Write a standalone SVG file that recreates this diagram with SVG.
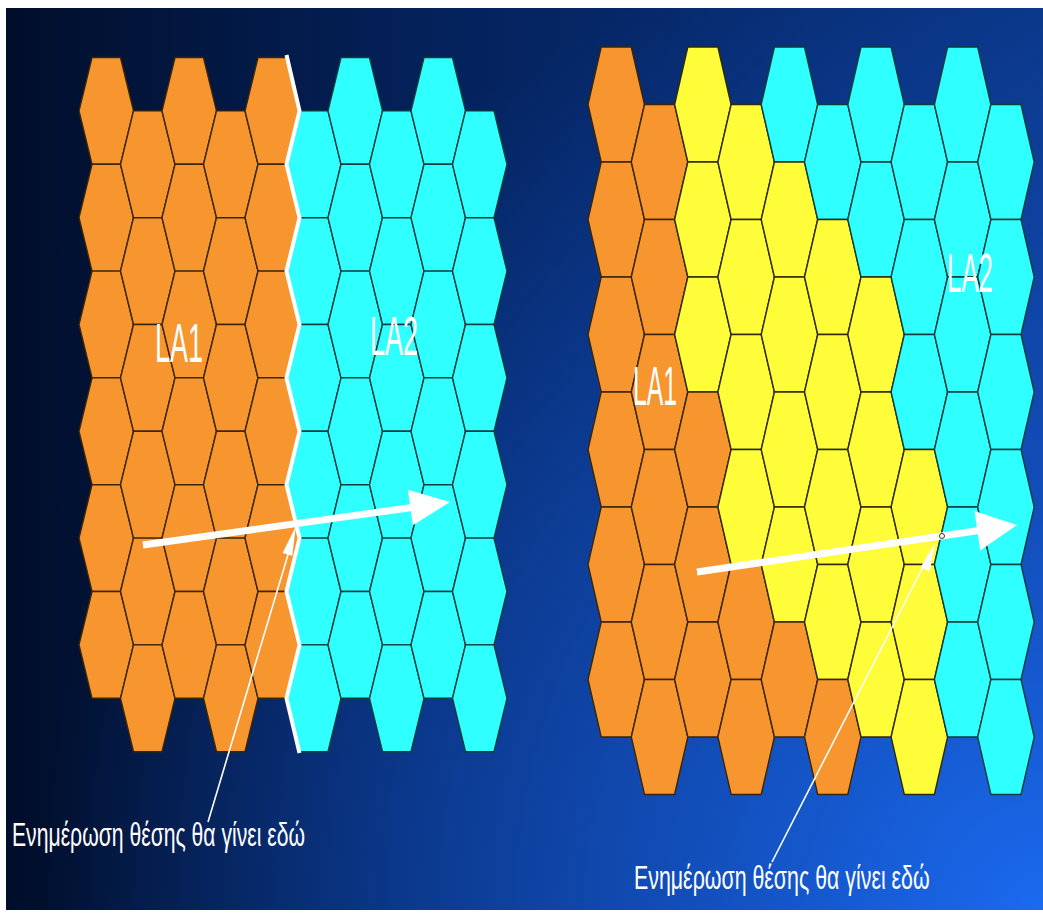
<svg xmlns="http://www.w3.org/2000/svg" xmlns:xlink="http://www.w3.org/1999/xlink" width="1043" height="917" viewBox="0 0 1043 917">
<style>
.o{fill:#f7952f;stroke:#3a2508;stroke-width:1.4}
.y{fill:#fffc3a;stroke:#2e2a06;stroke-width:1.4}
.c{fill:#30ffff;stroke:#0d3c3c;stroke-width:1.4}
.lbl{fill:#ffffff;font-family:"Liberation Sans",Arial,sans-serif;font-size:56px}
.note{fill:#ffffff;font-family:"Liberation Sans",Arial,sans-serif;font-size:33px}
.thin{stroke:#ffffff;stroke-width:1.6;fill:none}
.thick{stroke:#ffffff;stroke-width:7;fill:none}
.head{fill:#ffffff}
</style>
<defs>
<linearGradient id="bgH" x1="0" y1="0" x2="1" y2="0">
<stop offset="0" stop-color="#010e2a"/>
<stop offset="0.4" stop-color="#04215a"/>
<stop offset="1" stop-color="#0a3482"/>
</linearGradient>
<radialGradient id="bgR" gradientUnits="userSpaceOnUse" cx="1043" cy="917" r="1000">
<stop offset="0" stop-color="#1b6af0" stop-opacity="1"/>
<stop offset="0.5" stop-color="#1558d0" stop-opacity="0.6"/>
<stop offset="1" stop-color="#1558d0" stop-opacity="0"/>
</radialGradient>
<polygon id="hL" points="13,0 41.5,0 54.5,53.4 41.5,106.8 13,106.8 0,53.4"/>
<polygon id="hR" points="13.2,0 43.3,0 56.5,57.5 43.3,115 13.2,115 0,57.5"/>
</defs>
<rect x="0" y="0" width="1043" height="917" fill="#ffffff"/>
<rect x="6" y="8" width="1037" height="902" fill="url(#bgH)"/>
<rect x="6" y="8" width="1037" height="902" fill="url(#bgR)"/>

<g id="left-grid">
<g id="L-LA1">
<use xlink:href="#hL" class="o" x="79" y="57.5"/><use xlink:href="#hL" class="o" x="79" y="164.3"/><use xlink:href="#hL" class="o" x="79" y="271.1"/><use xlink:href="#hL" class="o" x="79" y="377.9"/><use xlink:href="#hL" class="o" x="79" y="484.7"/><use xlink:href="#hL" class="o" x="79" y="591.5"/>
<use xlink:href="#hL" class="o" x="120.5" y="110.9"/><use xlink:href="#hL" class="o" x="120.5" y="217.7"/><use xlink:href="#hL" class="o" x="120.5" y="324.5"/><use xlink:href="#hL" class="o" x="120.5" y="431.3"/><use xlink:href="#hL" class="o" x="120.5" y="538.1"/><use xlink:href="#hL" class="o" x="120.5" y="644.9"/>
<use xlink:href="#hL" class="o" x="162" y="57.5"/><use xlink:href="#hL" class="o" x="162" y="164.3"/><use xlink:href="#hL" class="o" x="162" y="271.1"/><use xlink:href="#hL" class="o" x="162" y="377.9"/><use xlink:href="#hL" class="o" x="162" y="484.7"/><use xlink:href="#hL" class="o" x="162" y="591.5"/>
<use xlink:href="#hL" class="o" x="203.5" y="110.9"/><use xlink:href="#hL" class="o" x="203.5" y="217.7"/><use xlink:href="#hL" class="o" x="203.5" y="324.5"/><use xlink:href="#hL" class="o" x="203.5" y="431.3"/><use xlink:href="#hL" class="o" x="203.5" y="538.1"/><use xlink:href="#hL" class="o" x="203.5" y="644.9"/>
<use xlink:href="#hL" class="o" x="245" y="57.5"/><use xlink:href="#hL" class="o" x="245" y="164.3"/><use xlink:href="#hL" class="o" x="245" y="271.1"/><use xlink:href="#hL" class="o" x="245" y="377.9"/><use xlink:href="#hL" class="o" x="245" y="484.7"/><use xlink:href="#hL" class="o" x="245" y="591.5"/>
</g>
<g id="L-LA2">
<use xlink:href="#hL" class="c" x="286.5" y="110.9"/><use xlink:href="#hL" class="c" x="286.5" y="217.7"/><use xlink:href="#hL" class="c" x="286.5" y="324.5"/><use xlink:href="#hL" class="c" x="286.5" y="431.3"/><use xlink:href="#hL" class="c" x="286.5" y="538.1"/><use xlink:href="#hL" class="c" x="286.5" y="644.9"/>
<use xlink:href="#hL" class="c" x="328" y="57.5"/><use xlink:href="#hL" class="c" x="328" y="164.3"/><use xlink:href="#hL" class="c" x="328" y="271.1"/><use xlink:href="#hL" class="c" x="328" y="377.9"/><use xlink:href="#hL" class="c" x="328" y="484.7"/><use xlink:href="#hL" class="c" x="328" y="591.5"/>
<use xlink:href="#hL" class="c" x="369.5" y="110.9"/><use xlink:href="#hL" class="c" x="369.5" y="217.7"/><use xlink:href="#hL" class="c" x="369.5" y="324.5"/><use xlink:href="#hL" class="c" x="369.5" y="431.3"/><use xlink:href="#hL" class="c" x="369.5" y="538.1"/><use xlink:href="#hL" class="c" x="369.5" y="644.9"/>
<use xlink:href="#hL" class="c" x="411" y="57.5"/><use xlink:href="#hL" class="c" x="411" y="164.3"/><use xlink:href="#hL" class="c" x="411" y="271.1"/><use xlink:href="#hL" class="c" x="411" y="377.9"/><use xlink:href="#hL" class="c" x="411" y="484.7"/><use xlink:href="#hL" class="c" x="411" y="591.5"/>
<use xlink:href="#hL" class="c" x="452.5" y="110.9"/><use xlink:href="#hL" class="c" x="452.5" y="217.7"/><use xlink:href="#hL" class="c" x="452.5" y="324.5"/><use xlink:href="#hL" class="c" x="452.5" y="431.3"/><use xlink:href="#hL" class="c" x="452.5" y="538.1"/><use xlink:href="#hL" class="c" x="452.5" y="644.9"/>
</g>
<polyline id="L-border" fill="none" stroke="#ffffff" stroke-width="4" stroke-linejoin="miter" points="286.5,55 299.5,110.9 286.5,164.3 299.5,217.7 286.5,271.1 299.5,324.5 286.5,377.9 299.5,431.3 286.5,484.7 299.5,538.1 286.5,591.5 299.5,644.9 286.5,698.3 299.5,753"/>
</g>

<g id="right-grid">
<g id="R-col0">
<use xlink:href="#hR" class="o" x="588" y="47"/><use xlink:href="#hR" class="o" x="588" y="162"/><use xlink:href="#hR" class="o" x="588" y="277"/><use xlink:href="#hR" class="o" x="588" y="392"/><use xlink:href="#hR" class="o" x="588" y="507"/><use xlink:href="#hR" class="o" x="588" y="622"/>
</g>
<g id="R-col1">
<use xlink:href="#hR" class="o" x="631.3" y="104.5"/><use xlink:href="#hR" class="o" x="631.3" y="219.5"/><use xlink:href="#hR" class="o" x="631.3" y="334.5"/><use xlink:href="#hR" class="o" x="631.3" y="449.5"/><use xlink:href="#hR" class="o" x="631.3" y="564.5"/><use xlink:href="#hR" class="o" x="631.3" y="679.5"/>
</g>
<g id="R-col2">
<use xlink:href="#hR" class="y" x="674.6" y="47"/><use xlink:href="#hR" class="y" x="674.6" y="162"/><use xlink:href="#hR" class="y" x="674.6" y="277"/><use xlink:href="#hR" class="o" x="674.6" y="392"/><use xlink:href="#hR" class="o" x="674.6" y="507"/><use xlink:href="#hR" class="o" x="674.6" y="622"/>
</g>
<g id="R-col3">
<use xlink:href="#hR" class="y" x="717.9" y="104.5"/><use xlink:href="#hR" class="y" x="717.9" y="219.5"/><use xlink:href="#hR" class="y" x="717.9" y="334.5"/><use xlink:href="#hR" class="y" x="717.9" y="449.5"/><use xlink:href="#hR" class="o" x="717.9" y="564.5"/><use xlink:href="#hR" class="o" x="717.9" y="679.5"/>
</g>
<g id="R-col4">
<use xlink:href="#hR" class="c" x="761.2" y="47"/><use xlink:href="#hR" class="y" x="761.2" y="162"/><use xlink:href="#hR" class="y" x="761.2" y="277"/><use xlink:href="#hR" class="y" x="761.2" y="392"/><use xlink:href="#hR" class="y" x="761.2" y="507"/><use xlink:href="#hR" class="o" x="761.2" y="622"/>
</g>
<g id="R-col5">
<use xlink:href="#hR" class="c" x="804.5" y="104.5"/><use xlink:href="#hR" class="y" x="804.5" y="219.5"/><use xlink:href="#hR" class="y" x="804.5" y="334.5"/><use xlink:href="#hR" class="y" x="804.5" y="449.5"/><use xlink:href="#hR" class="y" x="804.5" y="564.5"/><use xlink:href="#hR" class="o" x="804.5" y="679.5"/>
</g>
<g id="R-col6">
<use xlink:href="#hR" class="c" x="847.8" y="47"/><use xlink:href="#hR" class="c" x="847.8" y="162"/><use xlink:href="#hR" class="y" x="847.8" y="277"/><use xlink:href="#hR" class="y" x="847.8" y="392"/><use xlink:href="#hR" class="y" x="847.8" y="507"/><use xlink:href="#hR" class="y" x="847.8" y="622"/>
</g>
<g id="R-col7">
<use xlink:href="#hR" class="c" x="891.1" y="104.5"/><use xlink:href="#hR" class="c" x="891.1" y="219.5"/><use xlink:href="#hR" class="c" x="891.1" y="334.5"/><use xlink:href="#hR" class="y" x="891.1" y="449.5"/><use xlink:href="#hR" class="y" x="891.1" y="564.5"/><use xlink:href="#hR" class="y" x="891.1" y="679.5"/>
</g>
<g id="R-col8">
<use xlink:href="#hR" class="c" x="934.4" y="47"/><use xlink:href="#hR" class="c" x="934.4" y="162"/><use xlink:href="#hR" class="c" x="934.4" y="277"/><use xlink:href="#hR" class="c" x="934.4" y="392"/><use xlink:href="#hR" class="c" x="934.4" y="507"/><use xlink:href="#hR" class="c" x="934.4" y="622"/>
</g>
<g id="R-col9">
<use xlink:href="#hR" class="c" x="977.7" y="104.5"/><use xlink:href="#hR" class="c" x="977.7" y="219.5"/><use xlink:href="#hR" class="c" x="977.7" y="334.5"/><use xlink:href="#hR" class="c" x="977.7" y="449.5"/><use xlink:href="#hR" class="c" x="977.7" y="564.5"/><use xlink:href="#hR" class="c" x="977.7" y="679.5"/>
</g>
</g>

<g id="labels">
<text class="lbl" transform="translate(155,362) scale(0.48,1)" x="0" y="0" textLength="100" lengthAdjust="spacingAndGlyphs">LA1</text>
<text class="lbl" transform="translate(370,355) scale(0.48,1)" x="0" y="0" textLength="100" lengthAdjust="spacingAndGlyphs">LA2</text>
<text class="lbl" transform="translate(633,405) scale(0.44,1)" x="0" y="0" textLength="100" lengthAdjust="spacingAndGlyphs">LA1</text>
<text class="lbl" transform="translate(947,292) scale(0.46,1)" x="0" y="0" textLength="100" lengthAdjust="spacingAndGlyphs">LA2</text>
</g>

<g id="connectors">
<line class="thick" x1="143" y1="545" x2="412" y2="507.5"/>
<polygon class="head" points="450,502 412.9,525.3 407.9,489.7"/>
<line class="thick" x1="697" y1="572" x2="979" y2="530.5"/>
<polygon class="head" points="1017,525 980.3,550.6 974.5,511"/>
<line class="thin" x1="208" y1="822" x2="290" y2="548"/>
<polygon class="head" points="296,526 292.2,555.8 282.6,553"/>
<line class="thin" x1="772" y1="862" x2="925" y2="563"/>
<polygon class="head" points="935,543 929.8,571.6 920.7,567"/>
<circle cx="942" cy="536" r="2.5" fill="#ffffff" stroke="#333333" stroke-width="1"/>
</g>

<g id="notes">
<text class="note" transform="translate(12,846) scale(0.64,1)" x="0" y="0" textLength="458" lengthAdjust="spacingAndGlyphs">Ενημέρωση θέσης θα γίνει εδώ</text>
<text class="note" transform="translate(634,889) scale(0.64,1)" x="0" y="0" textLength="462" lengthAdjust="spacingAndGlyphs">Ενημέρωση θέσης θα γίνει εδώ</text>
</g>
</svg>
